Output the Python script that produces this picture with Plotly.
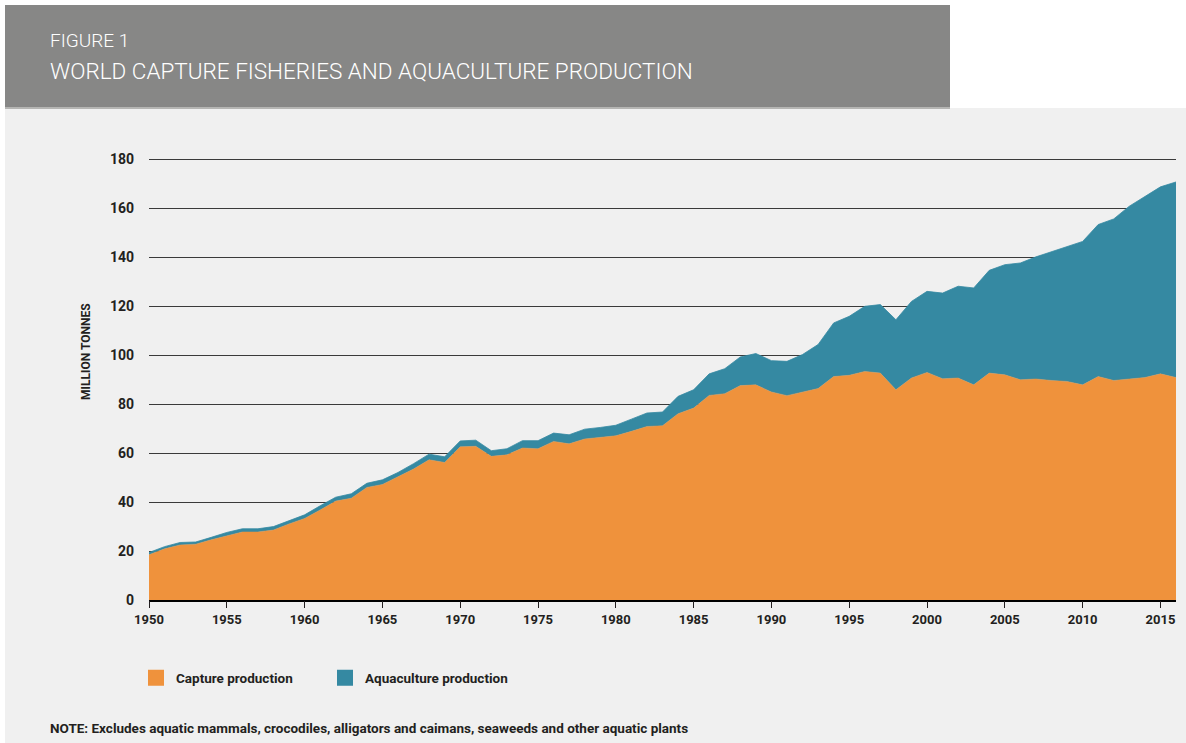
import plotly.graph_objects as go

# FAO world production, million tonnes
years = list(range(1950, 2017))

capture = [18.5, 20.9, 22.5, 22.8, 24.6, 26.3, 27.8, 27.8, 28.6, 31.1,
           33.3, 36.8, 40.4, 41.6, 46.0, 47.2, 50.2, 53.5, 57.3, 56.2,
           62.6, 62.8, 58.7, 59.3, 62.1, 61.8, 64.8, 63.8, 65.8, 66.4,
           67.1, 68.9, 70.9, 71.2, 76.1, 78.4, 83.6, 84.3, 87.6, 87.9,
           85.0, 83.5, 85.0, 86.4, 91.3, 91.8, 93.4, 92.7, 85.9, 90.7,
           93.0, 90.4, 90.7, 87.9, 92.7, 92.0, 90.0, 90.3, 89.7, 89.3,
           87.9, 91.3, 89.7, 90.3, 90.9, 92.4, 90.9]

aquaculture = [0.9, 0.9, 1.0, 0.9, 1.0, 1.3, 1.3, 1.3, 1.4, 1.4,
               1.5, 1.7, 1.6, 1.8, 1.7, 1.9, 1.9, 2.2, 2.3, 2.3,
               2.4, 2.5, 2.3, 2.5, 3.0, 3.3, 3.4, 3.7, 4.0, 4.1,
               4.3, 5.0, 5.5, 5.6, 7.1, 7.5, 8.8, 10.2, 11.7, 12.8,
               12.8, 14.0, 15.3, 18.0, 21.9, 24.1, 26.6, 28.0, 28.6, 31.3,
               33.1, 35.0, 37.5, 39.6, 42.0, 45.0, 47.7, 49.9, 52.5, 55.2,
               58.6, 62.1, 66.0, 70.6, 74.0, 76.4, 79.9]

series_names = ['Capture production', 'Aquaculture production']
x_ticks = list(range(1950, 2016, 5))
y_ticks = list(range(0, 181, 20))

ORANGE = '#ef923c'
TEAL = '#3589a2'
TXT = '#231f20'
FONT = 'Roboto, Liberation Sans, sans-serif'

W, H = 1186, 743
L, R, T, B = 149, 10, 157, 143
pw, ph = W - L - R, H - T - B


def px_x(p):
    return (p - L) / pw


def px_y(p):
    return (H - B - p) / ph


fig = go.Figure()

# stacked areas
fig.add_trace(go.Scatter(x=years, y=capture, stackgroup='one', mode='lines',
                         line=dict(width=0.5, color=ORANGE), fillcolor=ORANGE,
                         name=series_names[0], showlegend=False))
fig.add_trace(go.Scatter(x=years, y=aquaculture, stackgroup='one', mode='lines',
                         line=dict(width=0.8, color=TEAL), fillcolor=TEAL,
                         name=series_names[1], showlegend=False))

# square legend keys
for name, col in zip(series_names, [ORANGE, TEAL]):
    fig.add_trace(go.Scatter(x=[None], y=[None], mode='markers', name=name,
                             marker=dict(symbol='square', size=17, color=col)))

fig.update_layout(
    width=W, height=H,
    margin=dict(l=L, r=R, t=T, b=B),
    paper_bgcolor='white',
    plot_bgcolor='rgba(0,0,0,0)',
    font=dict(family=FONT, color=TXT),
    legend=dict(orientation='h', traceorder='normal',
                x=px_x(136), y=px_y(678), xanchor='left', yanchor='middle',
                font=dict(size=13.5, family=FONT, color=TXT, weight='bold'),
                entrywidth=144, itemwidth=30, bgcolor='rgba(0,0,0,0)'),
    shapes=[
        # light page background under the banner
        dict(type='rect', xref='paper', yref='paper', layer='below',
             x0=px_x(5), x1=px_x(W + 5), y0=px_y(108), y1=px_y(H + 5),
             fillcolor='#f0f0f0', line_width=0),
        # title banner
        dict(type='rect', xref='paper', yref='paper', layer='below',
             x0=px_x(5), x1=px_x(950), y0=px_y(108), y1=px_y(5),
             fillcolor='#878786', line_width=0),
        dict(type='line', xref='paper', yref='paper', layer='below',
             x0=px_x(5), x1=px_x(950), y0=px_y(108), y1=px_y(108),
             line=dict(color='#b5b5b3', width=2)),
    ],
    annotations=[
        dict(text='FIGURE 1', xref='paper', yref='paper', x=px_x(48), y=px_y(41),
             xanchor='left', yanchor='middle', showarrow=False,
             font=dict(size=19, color='white', family=FONT, weight=300)),
        dict(text='WORLD CAPTURE FISHERIES AND AQUACULTURE PRODUCTION', xref='paper', yref='paper',
             x=px_x(48), y=px_y(71), xanchor='left', yanchor='middle', showarrow=False,
             font=dict(size=22.5, color='white', family=FONT, weight=300)),
        dict(text='MILLION TONNES', xref='paper', yref='paper', x=px_x(86), y=px_y(352),
             xanchor='center', yanchor='middle', textangle=-90, showarrow=False,
             font=dict(size=12, color=TXT, family=FONT, weight='bold')),
        dict(text='NOTE: Excludes aquatic mammals, crocodiles, alligators and caimans, seaweeds and other aquatic plants',
             xref='paper', yref='paper', x=px_x(48), y=px_y(728), xanchor='left', yanchor='middle',
             showarrow=False, font=dict(size=13.5, color=TXT, family=FONT, weight='bold')),
    ],
)

fig.update_xaxes(range=[1950, 2016], tickvals=x_ticks, showgrid=False, zeroline=False,
                 ticks='outside', ticklen=7, tickwidth=1.2, tickcolor=TXT,
                 showline=False,
                 tickfont=dict(size=13, family=FONT, color=TXT, weight='bold'))
fig.update_yaxes(range=[0, 181], tickvals=y_ticks, showgrid=True, gridcolor='#3a3a3a',
                 gridwidth=1.2, zeroline=True, zerolinecolor='black', zerolinewidth=3,
                 ticks='', ticklabelstandoff=14,
                 tickfont=dict(size=14, family=FONT, color=TXT, weight='bold'))

# page body has a default 8px margin; drop it so the figure fills the window
fig.write_html('out.html', config={'displayModeBar': False},
               post_script="document.body.style.margin='0';")
